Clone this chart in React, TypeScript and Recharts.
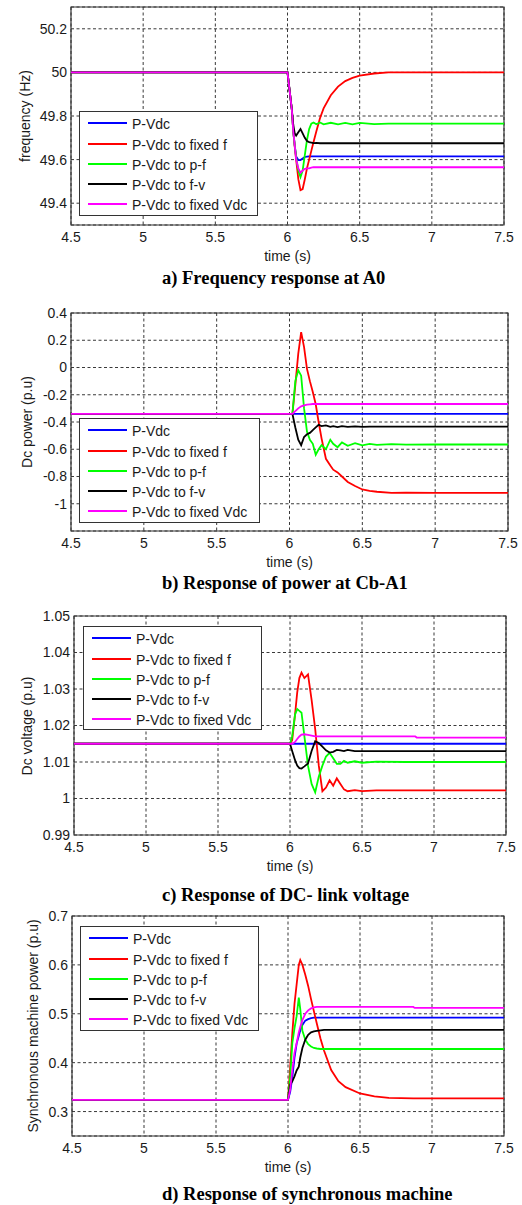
import React from 'react';
import { LineChart, Line, XAxis, YAxis, CartesianGrid, ReferenceArea } from 'recharts';

const SERIES_NAMES = ['P-Vdc', 'P-Vdc to fixed f', 'P-Vdc to p-f', 'P-Vdc to f-v', 'P-Vdc to fixed Vdc'];
const SERIES_COLORS = ['#0000ff', '#ff0000', '#00ff00', '#000000', '#ff00ff'];
const SERIES_KEYS = ['pvdc', 'fixedF', 'pf', 'fv', 'fixedVdc'];
const X_TICKS = [4.5, 5, 5.5, 6, 6.5, 7, 7.5];

// a) Frequency response at A0
const TIME_A = [4.5, 6.0, 6.015, 6.03, 6.04, 6.05, 6.06, 6.075, 6.09, 6.105, 6.12, 6.135, 6.15, 6.165, 6.18, 6.2, 6.225, 6.25, 6.3, 6.35, 6.4, 6.45, 6.5, 6.6, 6.7, 7.0, 7.5];
const A_PVDC = [50.0, 50.0, 49.915, 49.83, 49.73, 49.665, 49.615, 49.598, 49.598, 49.605, 49.612, 49.614, 49.615, 49.615, 49.615, 49.615, 49.615, 49.615, 49.615, 49.615, 49.615, 49.615, 49.615, 49.615, 49.615, 49.615, 49.615];
const A_FIXED_F = [50.0, 50.0, 49.915, 49.83, 49.73, 49.66, 49.6, 49.51, 49.46, 49.465, 49.51, 49.56, 49.6, 49.64, 49.68, 49.73, 49.79, 49.835, 49.895, 49.935, 49.96, 49.975, 49.985, 49.995, 50.0, 50.0, 50.0];
const A_PF = [50.0, 50.0, 49.915, 49.83, 49.73, 49.665, 49.61, 49.55, 49.52, 49.55, 49.62, 49.69, 49.74, 49.765, 49.77, 49.762, 49.77, 49.762, 49.769, 49.762, 49.768, 49.762, 49.768, 49.763, 49.765, 49.765, 49.765];
const A_FV = [50.0, 50.0, 49.915, 49.83, 49.76, 49.72, 49.71, 49.725, 49.74, 49.72, 49.7, 49.685, 49.68, 49.678, 49.676, 49.677, 49.675, 49.675, 49.675, 49.675, 49.675, 49.675, 49.675, 49.675, 49.675, 49.675, 49.675];
const A_FIXED_VDC = [50.0, 50.0, 49.915, 49.83, 49.73, 49.665, 49.6, 49.56, 49.54, 49.55, 49.558, 49.56, 49.56, 49.563, 49.565, 49.565, 49.565, 49.565, 49.565, 49.565, 49.565, 49.565, 49.565, 49.565, 49.565, 49.565, 49.565];
const A_Y_TICKS = [49.4, 49.6, 49.8, 50, 50.2];

// b) Response of power at Cb-A1
const TIME_B = [4.5, 6.0, 6.02, 6.04, 6.06, 6.08, 6.1, 6.12, 6.14, 6.16, 6.18, 6.2, 6.22, 6.25, 6.28, 6.3, 6.33, 6.36, 6.4, 6.45, 6.5, 6.55, 6.6, 6.7, 6.8, 7.0, 7.5];
const B_PVDC = [-0.34, -0.34, -0.34, -0.34, -0.34, -0.34, -0.34, -0.34, -0.34, -0.34, -0.34, -0.34, -0.34, -0.34, -0.34, -0.34, -0.34, -0.34, -0.34, -0.34, -0.34, -0.34, -0.34, -0.34, -0.34, -0.34, -0.34];
const B_FIXED_F = [-0.34, -0.34, -0.34, -0.13, 0.1, 0.26, 0.15, -0.01, -0.1, -0.18, -0.27, -0.4, -0.52, -0.67, -0.72, -0.75, -0.77, -0.8, -0.84, -0.87, -0.895, -0.905, -0.912, -0.92, -0.918, -0.92, -0.92];
const B_PF = [-0.34, -0.34, -0.34, -0.1, -0.02, -0.06, -0.3, -0.47, -0.53, -0.56, -0.64, -0.6, -0.57, -0.6, -0.53, -0.56, -0.585, -0.55, -0.575, -0.555, -0.572, -0.56, -0.568, -0.562, -0.566, -0.565, -0.565];
const B_FV = [-0.34, -0.34, -0.34, -0.44, -0.53, -0.57, -0.51, -0.49, -0.48, -0.46, -0.44, -0.42, -0.43, -0.425, -0.435, -0.43, -0.437, -0.43, -0.436, -0.432, -0.436, -0.434, -0.434, -0.434, -0.434, -0.434, -0.434];
const B_FIXED_VDC = [-0.34, -0.34, -0.34, -0.32, -0.3, -0.285, -0.278, -0.272, -0.27, -0.268, -0.268, -0.268, -0.268, -0.268, -0.268, -0.268, -0.268, -0.268, -0.268, -0.268, -0.268, -0.268, -0.268, -0.268, -0.268, -0.268, -0.268];
const B_Y_TICKS = [-1, -0.8, -0.6, -0.4, -0.2, 0, 0.2, 0.4];

// c) Response of DC- link voltage
const TIME_C = [4.5, 6.0, 6.015, 6.035, 6.05, 6.065, 6.08, 6.1, 6.125, 6.15, 6.175, 6.2, 6.225, 6.25, 6.275, 6.3, 6.325, 6.35, 6.375, 6.4, 6.45, 6.5, 6.6, 6.8, 6.87, 6.88, 7.0, 7.5];
const C_PVDC = [1.015, 1.015, 1.015, 1.015, 1.015, 1.015, 1.015, 1.015, 1.015, 1.015, 1.015, 1.015, 1.015, 1.015, 1.015, 1.015, 1.015, 1.015, 1.015, 1.015, 1.015, 1.015, 1.015, 1.015, 1.015, 1.015, 1.015, 1.015];
const C_FIXED_F = [1.015, 1.015, 1.016, 1.023, 1.029, 1.033, 1.0345, 1.033, 1.034, 1.027, 1.019, 1.009, 1.002, 1.003, 1.005, 1.0035, 1.0055, 1.004, 1.0025, 1.002, 1.0023, 1.002, 1.0022, 1.0022, 1.0022, 1.0022, 1.0022, 1.0022];
const C_PF = [1.015, 1.015, 1.017, 1.023, 1.0245, 1.024, 1.0235, 1.017, 1.009, 1.004, 1.0017, 1.006, 1.009, 1.0115, 1.0125, 1.011, 1.0095, 1.0095, 1.0103, 1.0098, 1.0102, 1.0098, 1.0101, 1.01, 1.01, 1.01, 1.01, 1.01];
const C_FV = [1.015, 1.015, 1.013, 1.0105, 1.009, 1.0083, 1.0082, 1.0088, 1.0096, 1.013, 1.0157, 1.0152, 1.0142, 1.0132, 1.0126, 1.0128, 1.0133, 1.0132, 1.013, 1.0133, 1.013, 1.013, 1.013, 1.013, 1.013, 1.013, 1.013, 1.013];
const C_FIXED_VDC = [1.015, 1.015, 1.015, 1.0155, 1.0163, 1.017, 1.0175, 1.0176, 1.0174, 1.0172, 1.017, 1.017, 1.017, 1.017, 1.017, 1.017, 1.017, 1.017, 1.017, 1.017, 1.017, 1.017, 1.017, 1.017, 1.017, 1.0167, 1.0167, 1.0167];
const C_Y_TICKS = [0.99, 1, 1.01, 1.02, 1.03, 1.04, 1.05];

// d) Response of synchronous machine
const TIME_D = [4.5, 6.0, 6.015, 6.03, 6.045, 6.06, 6.075, 6.085, 6.1, 6.12, 6.14, 6.16, 6.18, 6.2, 6.225, 6.25, 6.3, 6.35, 6.4, 6.5, 6.6, 6.7, 6.87, 6.88, 7.0, 7.5];
const D_PVDC = [0.324, 0.324, 0.34, 0.37, 0.41, 0.439, 0.455, 0.466, 0.477, 0.486, 0.489, 0.491, 0.492, 0.492, 0.492, 0.492, 0.492, 0.492, 0.492, 0.492, 0.492, 0.492, 0.492, 0.492, 0.492, 0.492];
const D_FIXED_F = [0.324, 0.324, 0.39, 0.46, 0.52, 0.56, 0.6, 0.61, 0.6, 0.58, 0.557, 0.53, 0.505, 0.48, 0.45, 0.425, 0.385, 0.362, 0.35, 0.337, 0.331, 0.328, 0.327, 0.327, 0.327, 0.327];
const D_PF = [0.324, 0.324, 0.37, 0.44, 0.47, 0.495, 0.533, 0.51, 0.465, 0.447, 0.438, 0.433, 0.43, 0.429, 0.428, 0.428, 0.428, 0.428, 0.428, 0.428, 0.428, 0.428, 0.428, 0.428, 0.428, 0.428];
const D_FV = [0.324, 0.324, 0.355, 0.362, 0.372, 0.384, 0.392, 0.41, 0.43, 0.447, 0.457, 0.462, 0.464, 0.465, 0.466, 0.467, 0.467, 0.467, 0.467, 0.467, 0.467, 0.467, 0.467, 0.467, 0.467, 0.467];
const D_FIXED_VDC = [0.324, 0.324, 0.345, 0.385, 0.42, 0.44, 0.462, 0.473, 0.487, 0.5, 0.507, 0.511, 0.513, 0.514, 0.514, 0.514, 0.514, 0.514, 0.514, 0.514, 0.514, 0.514, 0.514, 0.512, 0.512, 0.512];
const D_Y_TICKS = [0.3, 0.4, 0.5, 0.6, 0.7];

function buildRows(time: number[], series: number[][]) {
  return time.map((t, i) => {
    const row: Record<string, number> = { t };
    SERIES_KEYS.forEach((k, j) => {
      row[k] = series[j][i];
    });
    return row;
  });
}

type PanelProps = {
  rows: Record<string, number>[];
  yDomain: [number, number];
  yTicks: number[];
  plotLeft: number;
  plotRight: number;
  plotTop: number;
  plotBottom: number;
  yLabel: string;
  yLabelX: number;
  caption: string;
  captionY: number;
  legend: { left: number; top: number; width: number; height: number };
};

const TEXT_COLOR = '#1a1a1a';
const SANS = '"Liberation Sans", Arial, sans-serif';
const SERIF = '"Liberation Serif", "Times New Roman", serif';

function Panel(p: PanelProps) {
  const mt = 12;
  const yAxisW = 50;
  const xAxisH = 30;
  const plotH = p.plotBottom - p.plotTop;
  const chartH = mt + plotH + xAxisH;
  const plotCx = (p.plotLeft + p.plotRight) / 2;
  const plotCy = (p.plotTop + p.plotBottom) / 2;
  const rowOffsets = [12, 32.5, 52.8, 73, 93];
  return (
    <>
      <div style={{ position: 'absolute', left: 0, top: p.plotTop - mt, width: 522, height: chartH }}>
        <LineChart
          width={522}
          height={chartH}
          data={p.rows}
          margin={{ top: mt, right: 522 - p.plotRight, bottom: 0, left: p.plotLeft - yAxisW }}
        >
          <CartesianGrid stroke="#222" strokeDasharray="3 2.5" strokeWidth={0.9} />
          <XAxis
            type="number"
            dataKey="t"
            domain={[4.5, 7.5]}
            ticks={X_TICKS}
            interval={0}
            height={xAxisH}
            axisLine={false}
            tickLine={false}
            tickSize={0}
            tickMargin={7}
            tick={{ fontSize: 14, fill: TEXT_COLOR, fontFamily: SANS }}
            allowDataOverflow
          />
          <YAxis
            type="number"
            domain={p.yDomain}
            ticks={p.yTicks}
            interval={0}
            width={yAxisW}
            axisLine={false}
            tickLine={false}
            tickSize={0}
            tickMargin={4}
            tick={{ fontSize: 14, fill: TEXT_COLOR, fontFamily: SANS }}
            allowDataOverflow
          />
          <ReferenceArea
            x1={4.5}
            x2={7.5}
            y1={p.yDomain[0]}
            y2={p.yDomain[1]}
            fill="none"
            fillOpacity={0}
            stroke="#333"
            strokeWidth={1.2}
          />
          {SERIES_KEYS.map((k, i) => (
            <Line
              key={k}
              type="linear"
              dataKey={k}
              name={SERIES_NAMES[i]}
              stroke={SERIES_COLORS[i]}
              strokeWidth={1.8}
              dot={false}
              activeDot={false}
              isAnimationActive={false}
            />
          ))}
        </LineChart>
      </div>
      <div
        style={{
          position: 'absolute',
          left: p.legend.left,
          top: p.legend.top,
          width: p.legend.width,
          height: p.legend.height,
          border: '1px solid #333',
          background: '#fff',
          boxSizing: 'border-box',
        }}
      >
        {SERIES_NAMES.map((name, i) => (
          <React.Fragment key={name}>
            <div
              style={{
                position: 'absolute',
                left: 8,
                top: rowOffsets[i] - 2,
                width: 39,
                height: 2,
                background: SERIES_COLORS[i],
              }}
            />
            <div
              style={{
                position: 'absolute',
                left: 52,
                top: rowOffsets[i] - 9,
                height: 18,
                lineHeight: '18px',
                fontSize: 14,
                fontFamily: SANS,
                color: TEXT_COLOR,
                whiteSpace: 'nowrap',
              }}
            >
              {name}
            </div>
          </React.Fragment>
        ))}
      </div>
      <div
        style={{
          position: 'absolute',
          left: p.yLabelX,
          top: plotCy,
          transform: 'translate(-50%, -50%) rotate(-90deg)',
          fontSize: 14,
          fontFamily: SANS,
          color: TEXT_COLOR,
          whiteSpace: 'nowrap',
          lineHeight: '16px',
        }}
      >
        {p.yLabel}
      </div>
      <div
        style={{
          position: 'absolute',
          left: plotCx,
          top: p.plotBottom + 31,
          transform: 'translate(-50%, -50%)',
          fontSize: 14,
          fontFamily: SANS,
          color: TEXT_COLOR,
          whiteSpace: 'nowrap',
          lineHeight: '16px',
        }}
      >
        time (s)
      </div>
      <div
        style={{
          position: 'absolute',
          left: 162,
          top: p.captionY,
          transform: 'translateY(-50%)',
          fontSize: 18.5,
          fontWeight: 'bold',
          fontFamily: SERIF,
          color: '#000',
          whiteSpace: 'nowrap',
          lineHeight: '20px',
        }}
      >
        {p.caption}
      </div>
    </>
  );
}

export default function App() {
  const rowsA = buildRows(TIME_A, [A_PVDC, A_FIXED_F, A_PF, A_FV, A_FIXED_VDC]);
  const rowsB = buildRows(TIME_B, [B_PVDC, B_FIXED_F, B_PF, B_FV, B_FIXED_VDC]);
  const rowsC = buildRows(TIME_C, [C_PVDC, C_FIXED_F, C_PF, C_FV, C_FIXED_VDC]);
  const rowsD = buildRows(TIME_D, [D_PVDC, D_FIXED_F, D_PF, D_FV, D_FIXED_VDC]);
  return (
    <div style={{ position: 'absolute', left: 0, top: 0, width: 522, height: 1205, background: '#fff', overflow: 'hidden' }}>
      <Panel
        rows={rowsA}
        yDomain={[49.3, 50.3]}
        yTicks={A_Y_TICKS}
        plotLeft={71}
        plotRight={504}
        plotTop={7}
        plotBottom={225}
        yLabel="frequency (Hz)"
        yLabelX={25}
        caption="a) Frequency response at A0"
        captionY={278}
        legend={{ left: 79, top: 111, width: 179, height: 105 }}
      />
      <Panel
        rows={rowsB}
        yDomain={[-1.2, 0.4]}
        yTicks={B_Y_TICKS}
        plotLeft={71}
        plotRight={508}
        plotTop={313}
        plotBottom={531}
        yLabel="Dc power (p.u)"
        yLabelX={27}
        caption="b) Response of power at Cb-A1"
        captionY={583}
        legend={{ left: 79, top: 418, width: 181, height: 105 }}
      />
      <Panel
        rows={rowsC}
        yDomain={[0.99, 1.05]}
        yTicks={C_Y_TICKS}
        plotLeft={74}
        plotRight={506}
        plotTop={616}
        plotBottom={835}
        yLabel="Dc voltage (p.u)"
        yLabelX={27}
        caption="c) Response of DC- link voltage"
        captionY={895}
        legend={{ left: 83, top: 626, width: 179, height: 104 }}
      />
      <Panel
        rows={rowsD}
        yDomain={[0.25, 0.7]}
        yTicks={D_Y_TICKS}
        plotLeft={72}
        plotRight={504}
        plotTop={916}
        plotBottom={1136}
        yLabel="Synchronous machine power (p.u)"
        yLabelX={33}
        caption="d) Response of synchronous machine"
        captionY={1194}
        legend={{ left: 80, top: 926, width: 179, height: 105 }}
      />
    </div>
  );
}
